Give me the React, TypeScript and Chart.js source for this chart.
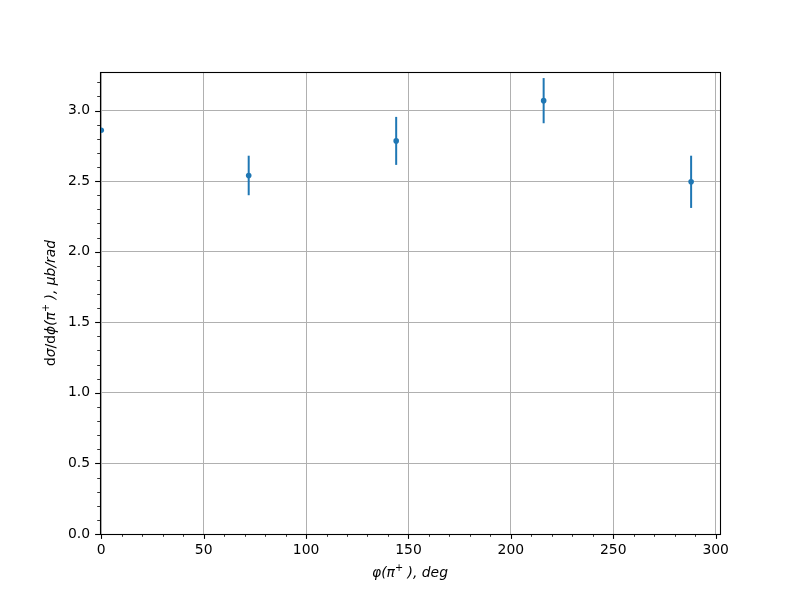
import React, { useEffect, useRef } from "react";
import { Chart, registerables } from "chart.js";

Chart.register(...registerables);

// ---- data ----
const xValues = [0, 72, 144, 216, 288];
const yValues = [2.86, 2.54, 2.785, 3.07, 2.495];
const yErrors = [0, 0.14, 0.17, 0.16, 0.185];

const xMajorTicks = [0, 50, 100, 150, 200, 250, 300];
const yMajorTicks = [0, 0.5, 1.0, 1.5, 2.0, 2.5, 3.0];
const xMinorStep = 10;
const yMinorStep = 0.1;
const xRange = [-0.6, 302.1];
const yRange = [0, 3.273];

const xTitleSegments = [
  { text: "φ(π", italic: true },
  { text: "+", italic: true, sup: true },
  { text: " ), deg", italic: true },
];
const yTitleSegments = [
  { text: "d", italic: false },
  { text: "σ", italic: true },
  { text: "/d", italic: false },
  { text: "ϕ(π", italic: true },
  { text: "+", italic: true, sup: true },
  { text: " ), μb/rad", italic: true },
];

const FONT = "'DejaVu Sans', sans-serif";
const FS = 13.9;
const BLUE = "#1f77b4";

type Seg = { text: string; italic: boolean; sup?: boolean };

function segFont(s: Seg) {
  const size = s.sup ? FS * 0.7 : FS;
  return `${s.italic ? "italic " : ""}${size}px ${FONT}`;
}

function drawRich(ctx: CanvasRenderingContext2D, segs: Seg[], cx: number, cy: number) {
  let total = 0;
  const widths = segs.map((s) => {
    ctx.font = segFont(s);
    const w = ctx.measureText(s.text).width;
    total += w;
    return w;
  });
  let x = cx - total / 2;
  ctx.textAlign = "left";
  ctx.textBaseline = "alphabetic";
  ctx.fillStyle = "#000";
  segs.forEach((s, i) => {
    ctx.font = segFont(s);
    ctx.fillText(s.text, x, cy + (s.sup ? -FS * 0.45 : 0));
    x += widths[i];
  });
}

const errorBarPlugin = {
  id: "errorBars",
  beforeDatasetsDraw(chart: any) {
    const { ctx, chartArea, scales } = chart;
    ctx.save();
    ctx.beginPath();
    ctx.rect(chartArea.left, chartArea.top, chartArea.right - chartArea.left, chartArea.bottom - chartArea.top);
    ctx.clip();
    ctx.strokeStyle = BLUE;
    ctx.lineWidth = 2;
    xValues.forEach((xv, i) => {
      if (!yErrors[i]) return;
      const px = scales.x.getPixelForValue(xv);
      const y1 = scales.y.getPixelForValue(yValues[i] - yErrors[i]);
      const y2 = scales.y.getPixelForValue(yValues[i] + yErrors[i]);
      ctx.beginPath();
      ctx.moveTo(px, y1);
      ctx.lineTo(px, y2);
      ctx.stroke();
    });
    ctx.restore();
  },
};

const framePlugin = {
  id: "frame",
  afterDraw(chart: any) {
    const { ctx, chartArea, scales } = chart;
    const { left, right, top, bottom } = chartArea;
    ctx.save();
    ctx.strokeStyle = "#000";
    // minor ticks
    ctx.lineWidth = 0.8;
    for (let k = 0; k * xMinorStep <= xRange[1] + 1e-9; k++) {
      const v = k * xMinorStep;
      const px = Math.round(scales.x.getPixelForValue(v)) + 0.5;
      ctx.beginPath();
      ctx.moveTo(px, bottom);
      ctx.lineTo(px, bottom + 2.8);
      ctx.stroke();
    }
    for (let k = 0; k * yMinorStep <= yRange[1] + 1e-9; k++) {
      const v = k * yMinorStep;
      const py = Math.round(scales.y.getPixelForValue(v)) + 0.5;
      ctx.beginPath();
      ctx.moveTo(left, py);
      ctx.lineTo(left - 2.8, py);
      ctx.stroke();
    }
    // major ticks
    ctx.lineWidth = 1.1;
    xMajorTicks.forEach((v) => {
      const px = Math.round(scales.x.getPixelForValue(v)) + 0.5;
      ctx.beginPath();
      ctx.moveTo(px, bottom);
      ctx.lineTo(px, bottom + 4.9);
      ctx.stroke();
    });
    yMajorTicks.forEach((v) => {
      const py = Math.round(scales.y.getPixelForValue(v)) + 0.5;
      ctx.beginPath();
      ctx.moveTo(left, py);
      ctx.lineTo(left - 4.9, py);
      ctx.stroke();
    });
    // spines
    ctx.lineWidth = 1.1;
    ctx.strokeRect(left + 0.5, top + 0.5, right - left, bottom - top);

    // axis titles
    drawRich(ctx, xTitleSegments, (left + right) / 2, 577);
    ctx.save();
    ctx.translate(55, (top + bottom) / 2);
    ctx.rotate(-Math.PI / 2);
    drawRich(ctx, yTitleSegments, 0, 0);
    ctx.restore();
    ctx.restore();
  },
};

export default function App() {
  const ref = useRef<HTMLCanvasElement>(null);
  useEffect(() => {
    if (!ref.current) return;
    const chart = new Chart(ref.current, {
      type: "scatter",
      data: {
        datasets: [
          {
            data: xValues.map((x, i) => ({ x, y: yValues[i] })),
            backgroundColor: BLUE,
            borderColor: BLUE,
            pointRadius: 2.8,
            pointBorderWidth: 0,
            pointHoverRadius: 2.8,
            showLine: false,
            clip: 0,
          } as any,
        ],
      },
      options: {
        animation: false,
        responsive: false,
        maintainAspectRatio: false,
        events: [],
        layout: { padding: { left: 0, right: 80, top: 72, bottom: 0 } },
        plugins: {
          legend: { display: false },
          tooltip: { enabled: false },
          title: { display: false },
        },
        scales: {
          x: {
            type: "linear",
            min: xRange[0],
            max: xRange[1],
            afterFit: (s: any) => {
              s.height = 66;
            },
            afterBuildTicks: (s: any) => {
              s.ticks = xMajorTicks.map((v) => ({ value: v }));
            },
            ticks: {
              padding: 8,
              color: "#000",
              font: { family: FONT, size: FS },
              maxRotation: 0,
              autoSkip: false,
              callback: (v: any) => String(v),
            },
            grid: { color: "#b0b0b0", lineWidth: 1, drawTicks: false },
            border: { display: false },
          },
          y: {
            type: "linear",
            min: yRange[0],
            max: yRange[1],
            afterFit: (s: any) => {
              s.width = 100;
            },
            afterBuildTicks: (s: any) => {
              s.ticks = yMajorTicks.map((v) => ({ value: v }));
            },
            ticks: {
              padding: 10,
              color: "#000",
              font: { family: FONT, size: FS },
              autoSkip: false,
              callback: (v: any) => Number(v).toFixed(1),
            },
            grid: { color: "#b0b0b0", lineWidth: 1, drawTicks: false },
            border: { display: false },
          },
        },
      },
      plugins: [errorBarPlugin, framePlugin],
    });
    return () => chart.destroy();
  }, []);
  return (
    <canvas
      ref={ref}
      width={800}
      height={600}
      style={{ position: "absolute", left: 0, top: 0, width: 800, height: 600 }}
    />
  );
}
